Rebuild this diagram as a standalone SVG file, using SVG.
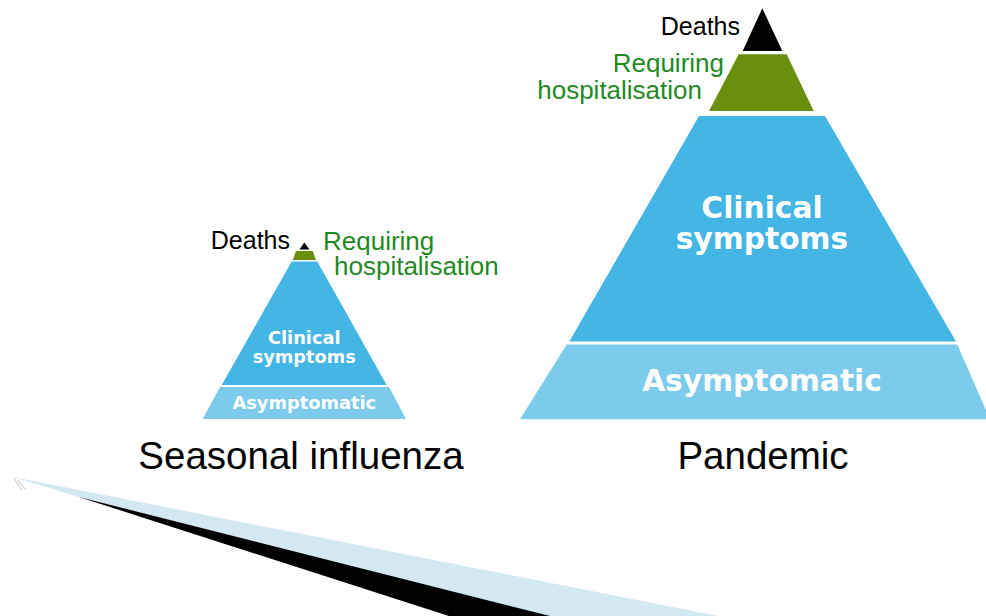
<svg xmlns="http://www.w3.org/2000/svg" width="986" height="616" viewBox="0 0 986 616">
<style>
.blue{fill:#43b6e5}
.light{fill:#7ccbec}
.green{fill:#6a8f0c}
.black{fill:#000}
.lbl{font-family:"Liberation Sans",Arial,sans-serif;font-size:25px}
.gtxt{fill:#1f8a1f;font-size:26px}
.w{font-family:"DejaVu Sans",Verdana,sans-serif;font-weight:bold;fill:#fff;text-anchor:middle}
.title{font-family:"Liberation Sans",Arial,sans-serif;font-size:38.5px;fill:#000;text-anchor:middle}
</style>
<rect width="986" height="616" fill="#fff"/>
<g id="swoosh">
<polygon points="13,477 718,616 449,616 79,497" fill="#d3e8f0"/>
<polygon points="79,497 550,616 449,616" fill="#000"/>
<path d="M14,478 L22,490 M18,480 L25,489" stroke="#c0c0c0" stroke-width="1" fill="none"/>
</g>
<g id="seasonal">
<g id="s-deaths"><polygon class="black" points="304.3,242.5 309.5,249.5 299.5,249.5"/><text class="lbl" x="290" y="249" text-anchor="end">Deaths</text></g>
<g id="s-hosp"><polygon class="green" points="296,251 312.7,251 316,260 292.7,260"/><text class="lbl gtxt" x="323" y="250">Requiring</text><text class="lbl gtxt" x="334" y="275">hospitalisation</text></g>
<g id="s-clin"><polygon class="blue" points="291.7,261.5 317.3,261.5 386.7,385 221.7,385"/><text class="w" x="304.3" y="344" font-size="17.8">Clinical</text><text class="w" x="304.3" y="363" font-size="17.8">symptoms</text></g>
<g id="s-asym"><polygon class="light" points="220,387 389,387 406,419 202.7,419"/><text class="w" x="304.3" y="408.5" font-size="17.8">Asymptomatic</text></g>
<text class="title" x="301" y="469">Seasonal influenza</text>
</g>
<g id="pandemic">
<g id="p-deaths"><polygon class="black" points="762.3,8.3 782.3,51 742.7,51"/><text class="lbl" x="740" y="34.5" text-anchor="end">Deaths</text></g>
<g id="p-hosp"><polygon class="green" points="738.7,54.3 786.7,54.3 813.7,111 709,111"/><text class="lbl gtxt" x="724" y="71.5" text-anchor="end">Requiring</text><text class="lbl gtxt" x="702" y="99" text-anchor="end">hospitalisation</text></g>
<g id="p-clin"><polygon class="blue" points="699,116 825,116 956,341.5 569.3,341.5"/><text class="w" x="762" y="218" font-size="29.7">Clinical</text><text class="w" x="762" y="248.5" font-size="29.7">symptoms</text></g>
<g id="p-asym"><polygon class="light" points="566.7,344.5 957.3,344.5 990,419.3 520,419.3"/><text class="w" x="762" y="391" font-size="29.7">Asymptomatic</text></g>
<text class="title" x="763" y="469">Pandemic</text>
</g>
</svg>
